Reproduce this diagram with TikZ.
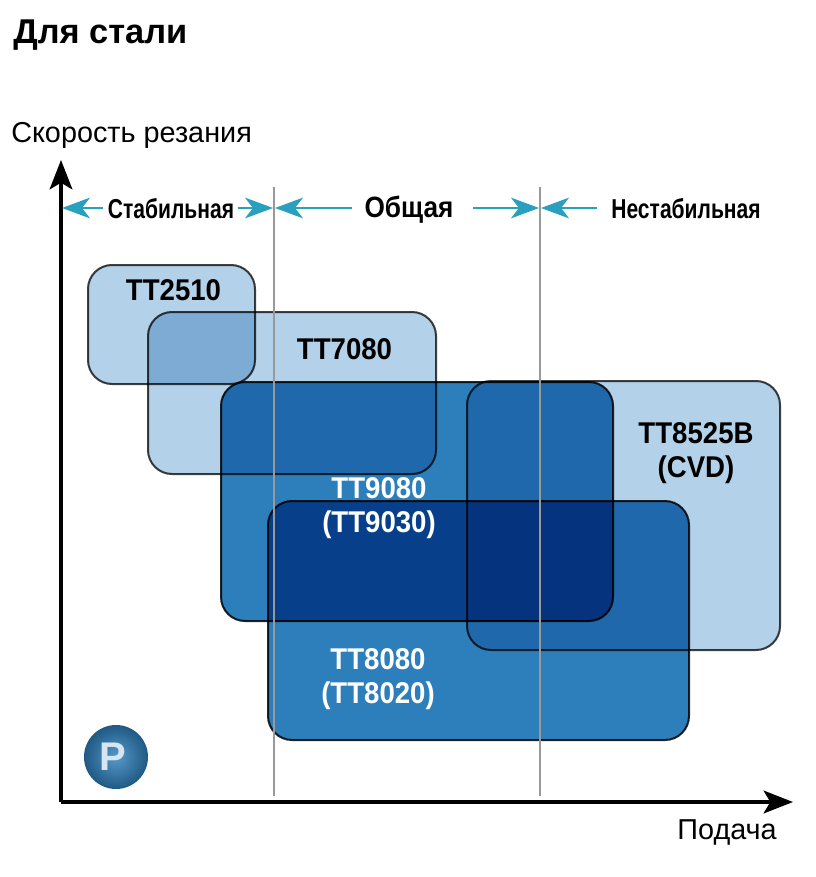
\documentclass[tikz,border=0pt]{standalone}
\usepackage{fontspec}
\setmainfont{Liberation Sans}
\usetikzlibrary{arrows.meta,shadings}
\definecolor{lightb}{HTML}{B3D1E8}
\definecolor{midb}{HTML}{2D7FBC}
\definecolor{tealc}{HTML}{28A0BE}
\definecolor{grayl}{HTML}{999999}
\tikzset{
  px/.style={x=0.75pt,y=-0.75pt},
  lightbox/.style={fill=lightb,draw=black!75,line width=1.5pt,rounded corners=18pt,blend mode=multiply},
  midbox/.style={fill=midb,draw=black!85,line width=1.5pt,rounded corners=18pt,blend mode=multiply},
  lab/.style={font=\bfseries\fontsize{22.5}{25.5}\selectfont,align=center,inner sep=0pt,text=black,xscale=.92},
  labw/.style={lab,text=white},
  axis/.style={draw=black,line width=3pt,-{Stealth[length=22pt,width=17pt,inset=5pt]}},
  zone/.style={draw=tealc,line width=1.6pt,-{Stealth[length=21pt,width=15.5pt,inset=6pt]}},
  vline/.style={draw=grayl,line width=1.5pt},
  zonelab/.style={font=\bfseries\fontsize{20.5}{24}\selectfont,inner sep=0pt,xscale=.77},
  axlab/.style={font=\fontsize{21.6}{25}\selectfont,inner sep=0pt},
}
\begin{document}
\begin{tikzpicture}[px]
\useasboundingbox (0,0) rectangle (816,877);
\fill[white] (0,0) rectangle (816,877);
\node[font=\bfseries\fontsize{25.8}{30}\selectfont,inner sep=0pt,anchor=west] (title) at (13,35) {Для стали};
% boxes
\draw[lightbox] (88,265) rectangle (255,384);
\draw[lightbox] (148,312) rectangle (436,474);
\draw[midbox] (221,382) rectangle (613,621);
\draw[lightbox] (467,381) rectangle (780,650);
\draw[midbox] (268,501) rectangle (689,740);
\node[lab] (t1) at (173.5,290.5) {TT2510};
\node[lab] (t2) at (344.5,349.5) {TT7080};
\node[lab] (t5) at (696,453.5) {TT8525B\\(CVD)};
\node[labw] (t3) at (379,508) {TT9080\\(TT9030)};
\node[labw] (t4) at (378,679) {TT8080\\(TT8020)};
% axes
\coordinate (o) at (61,802);
\coordinate (ytip) at (61,160);
\coordinate (xtip) at (793,802);
\draw[axis] (o) -- (ytip);
\draw[axis] (o) -- (xtip);
\node[axlab,anchor=west] (ylab) at (11,135) {Скорость резания};
\node[axlab,anchor=east] (xlab) at (777,832) {Подача};
% vertical lines
\coordinate (v1a) at (274,187); \coordinate (v1b) at (274,796);
\coordinate (v2a) at (540,187); \coordinate (v2b) at (540,796);
\draw[vline] (v1a) -- (v1b);
\draw[vline] (v2a) -- (v2b);
% zones
\node[zonelab] (z1) at (171,209) {Стабильная};
\node[lab,font=\bfseries\fontsize{22}{24}\selectfont,xscale=.97] (z2) at (409,209.5) {Общая};
\node[zonelab] (z3) at (686,209) {Нестабильная};
\coordinate (a1) at (62,208); \coordinate (a1s) at (103,208);
\coordinate (a2) at (273,208); \coordinate (a2s) at (238,208);
\coordinate (a3) at (275,208); \coordinate (a3s) at (352,208);
\coordinate (a4) at (539,208); \coordinate (a4s) at (473,208);
\coordinate (a5) at (541,208); \coordinate (a5s) at (597,208);
\draw[zone] (a1s) -- (a1);
\draw[zone] (a2s) -- (a2);
\draw[zone] (a3s) -- (a3);
\draw[zone] (a4s) -- (a4);
\draw[zone] (a5s) -- (a5);
% logo
\shade[inner color=midb!80!white,outer color=midb!70!black] (116,757) circle (32);
\node[text=white!80!midb,font=\bfseries\fontsize{30}{30}\selectfont,inner sep=0pt] (logo) at (113,757) {P};
\end{tikzpicture}
\end{document}
